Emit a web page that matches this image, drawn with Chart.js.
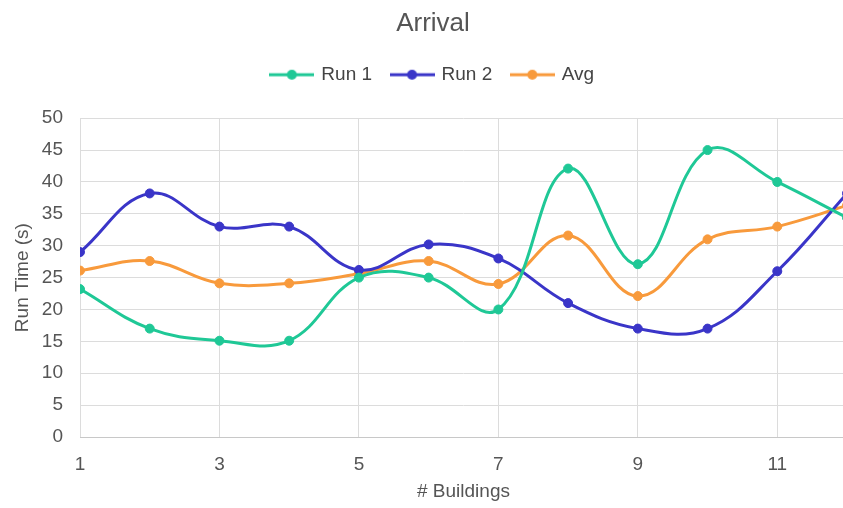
<!DOCTYPE html>
<html>
<head>
<meta charset="utf-8">
<script src="https://cdn.jsdelivr.net/npm/chart.js@4/dist/chart.umd.min.js"></script>
<style>
  html, body { margin: 0; padding: 0; background: #fff; overflow: hidden; }
  #wrap { width: 866px; height: 508px; }
</style>
</head>
<body>
<div id="wrap"><canvas id="chart" width="866" height="508"></canvas></div>
<script>
const buildings = [1, 2, 3, 4, 5, 6, 7, 8, 9, 10, 11, 12];
const run1 = [23.2, 17, 15.1, 15.1, 25, 25, 20, 42.1, 27.1, 45, 40, 34.4];
const run2 = [29, 38.2, 33, 33, 26.2, 30.2, 28, 21, 17, 17, 26, 38.2];
const avg = [26.1, 27.6, 24.1, 24.1, 25.6, 27.6, 24, 31.6, 22.1, 31, 33, 36.3];
const xTicks = [1, 3, 5, 7, 9, 11];

const GREEN = '#1fc896';
const BLUE = '#3a35c8';
const ORANGE = '#f89a3c';
const FONT = "'Liberation Sans', Arial, sans-serif";

// legend marker: short line with a dot in the middle
function lineMarker(color) {
  const c = document.createElement('canvas');
  c.width = 45;
  c.height = 12;
  const ctx = c.getContext('2d');
  ctx.strokeStyle = color;
  ctx.lineWidth = 3;
  ctx.beginPath();
  ctx.moveTo(0, 6);
  ctx.lineTo(45, 6);
  ctx.stroke();
  ctx.fillStyle = color;
  ctx.beginPath();
  ctx.arc(22.5, 6, 5, 0, Math.PI * 2);
  ctx.fill();
  return c;
}

function series(label, values, color) {
  return {
    label,
    data: buildings.map((x, i) => ({ x, y: values[i] })),
    borderColor: color,
    backgroundColor: color,
    borderWidth: 3,
    pointRadius: 4.5,
    pointBorderWidth: 1,
    pointHoverRadius: 6,
    tension: 0.4,
    marker: lineMarker(color),
  };
}

const legendSpacing = {
  id: 'legendSpacing',
  beforeInit(chart) {
    const fit = chart.legend.fit;
    chart.legend.fit = function () {
      fit.bind(chart.legend)();
      this.height += 24;
    };
  },
};

new Chart(document.getElementById('chart'), {
  type: 'line',
  data: {
    datasets: [
      series('Run 1', run1, GREEN),
      series('Run 2', run2, BLUE),
      series('Avg', avg, ORANGE),
    ],
  },
  plugins: [legendSpacing],
  options: {
    responsive: false,
    animation: false,
    layout: { padding: { left: 19, right: 19 } },
    plugins: {
      title: {
        display: true,
        text: 'Arrival',
        color: '#555',
        font: { family: FONT, size: 26, weight: 'normal' },
        padding: { top: 8, bottom: 6 },
      },
      legend: {
        display: true,
        position: 'top',
        labels: {
          usePointStyle: true,
          pointStyleWidth: 40,
          padding: 20,
          color: '#444',
          font: { family: FONT, size: 19 },
          generateLabels(chart) {
            return chart.data.datasets.map((ds, i) => ({
              text: ds.label,
              pointStyle: ds.marker,
              fillStyle: ds.borderColor,
              strokeStyle: ds.borderColor,
              fontColor: '#444',
              lineWidth: 0,
              hidden: !chart.isDatasetVisible(i),
              datasetIndex: i,
            }));
          },
        },
      },
      tooltip: { enabled: false },
    },
    scales: {
      x: {
        type: 'linear',
        min: 1,
        max: 12,
        afterBuildTicks(scale) {
          scale.ticks = xTicks.map((v) => ({ value: v }));
        },
        afterFit(scale) { scale.height = 71; },
        grid: { color: '#dcdcdc', drawTicks: false },
        border: { color: '#c8c8c8' },
        ticks: {
          color: '#555',
          padding: 16,
          maxRotation: 0,
          font: { family: FONT, size: 19 },
        },
        title: {
          display: true,
          text: '# Buildings',
          color: '#555',
          padding: { top: 0, bottom: 5 },
          font: { family: FONT, size: 19 },
        },
      },
      y: {
        min: 0,
        max: 50,
        afterFit(scale) { scale.width = 61; },
        grid: { color: '#dcdcdc', drawTicks: false },
        border: { display: false },
        ticks: {
          stepSize: 5,
          color: '#555',
          padding: 17,
          font: { family: FONT, size: 19 },
        },
        title: {
          display: true,
          text: 'Run Time (s)',
          color: '#555',
          padding: { top: -8, bottom: 0 },
          font: { family: FONT, size: 19 },
        },
      },
    },
  },
});
</script>
</body>
</html>
